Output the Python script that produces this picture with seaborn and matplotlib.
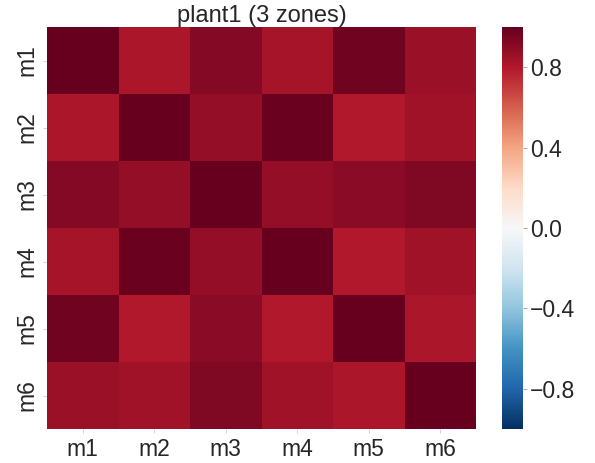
import numpy as np
import pandas as pd
import matplotlib
matplotlib.use("Agg")
import matplotlib.pyplot as plt
import seaborn as sns

labels = ["m1", "m2", "m3", "m4", "m5", "m6"]
row_m1 = [1.00, 0.82, 0.92, 0.83, 0.97, 0.86]
row_m2 = [0.82, 1.00, 0.88, 0.99, 0.80, 0.85]
row_m3 = [0.92, 0.88, 1.00, 0.88, 0.90, 0.93]
row_m4 = [0.83, 0.99, 0.88, 1.00, 0.80, 0.85]
row_m5 = [0.97, 0.80, 0.90, 0.80, 1.00, 0.82]
row_m6 = [0.86, 0.85, 0.93, 0.85, 0.82, 1.00]
cbar_ticks = [-0.8, -0.4, 0.0, 0.4, 0.8]

corr = pd.DataFrame([row_m1, row_m2, row_m3, row_m4, row_m5, row_m6],
                    index=labels, columns=labels)

sns.set_theme(style="white", font_scale=1.5)
plt.rcParams['font.family'] = ['Liberation Sans', 'DejaVu Sans']
plt.rcParams['xtick.bottom'] = True
plt.rcParams['ytick.left'] = True

W, H = 595, 463
fig = plt.figure(figsize=(W / 100, H / 100), dpi=100)
# heatmap and colorbar placed in pixel units measured on the reference
ax = fig.add_axes([47 / W, 1 - 429 / H, (476 - 47) / W, (429 - 27) / H])
cax = fig.add_axes([502 / W, 1 - 429 / H, (523 - 502) / W, (429 - 27) / H])

sns.heatmap(corr, cmap="RdBu_r", vmin=-1, vmax=1, ax=ax, cbar_ax=cax,
            cbar_kws={"ticks": cbar_ticks})
ax.set_title("plant1 (3 zones)", fontsize=17, pad=3)
ax.tick_params(length=3, width=0.6, color="#cccccc", labelsize=16.5)
cax.tick_params(length=3, width=0.6, color="#999999", labelsize=16.5, pad=2)
plt.savefig("out.png", dpi=100)
